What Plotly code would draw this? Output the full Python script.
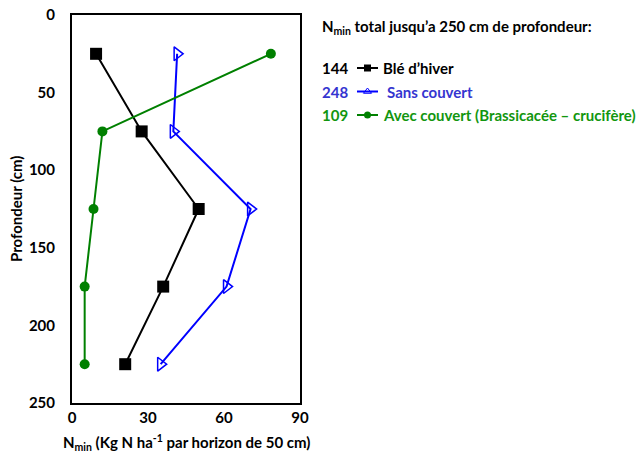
import plotly.graph_objects as go

# Soil mineral nitrogen by 50 cm horizon
depth_cm = [25, 75, 125, 175, 225]
ble_hiver = [9.5, 27.5, 50, 36, 21]
sans_couvert = [41.5, 40, 70.5, 61, 35]
avec_couvert = [78.5, 12, 8.5, 5, 5]

series_names = ["Blé d’hiver", "Sans couvert", "Avec couvert (Brassicacée – crucifère)"]
series_values = [ble_hiver, sans_couvert, avec_couvert]
x_ticks = [0, 30, 60, 90]
y_ticks = [0, 50, 100, 150, 200, 250]

W, H = 643, 454
FONT = "Lato"
FS = 15

styles = [
    dict(line="black", text="black", symbol="square", size=12, open=False),
    dict(line="#0000ff", text="#3535d0", symbol="triangle-right-open", size=12, open=True),
    dict(line="#008000", text="#12960f", symbol="circle", size=10, open=False),
]

fig = go.Figure()

for name, vals, st in zip(series_names, series_values, styles):
    fig.add_trace(go.Scatter(
        x=vals, y=depth_cm, mode="lines+markers", name=name,
        line=dict(color=st["line"], width=2),
        marker=dict(symbol=st["symbol"], size=st["size"], color=st["line"],
                    line=dict(color=st["line"], width=1.5 if st["open"] else 0)),
        showlegend=False, xaxis="x", yaxis="y",
    ))

# Legend block on the right, drawn in pixel space
px = lambda x: x / W
py = lambda y: 1 - y / H
legend_rows = [68, 91.5, 115]
legend_text_x = [381, 385, 381]
bold = lambda color: dict(family=FONT, size=FS, color=color, weight="bold")
annotations = [
    dict(text="N<sub>min</sub> total jusqu’a 250 cm de profondeur:", x=px(320), y=py(27),
         xref="paper", yref="paper", xanchor="left", yanchor="middle", showarrow=False,
         font=bold("black")),
]
for name, vals, st, ry, tx in zip(series_names, series_values, styles, legend_rows, legend_text_x):
    total = round(sum(vals))
    annotations.append(dict(text=str(total), x=px(320), y=py(ry), xref="paper", yref="paper",
                            xanchor="left", yanchor="middle", showarrow=False,
                            font=bold(st["text"])))
    annotations.append(dict(text=name, x=px(tx), y=py(ry), xref="paper", yref="paper",
                            xanchor="left", yanchor="middle", showarrow=False,
                            font=bold(st["text"])))
    fig.add_trace(go.Scatter(
        x=[357, 378], y=[ry, ry], mode="lines", line=dict(color=st["line"], width=2),
        showlegend=False, hoverinfo="skip", xaxis="x2", yaxis="y2"))
    fig.add_trace(go.Scatter(
        x=[367.5], y=[ry], mode="markers",
        marker=dict(symbol=st["symbol"].replace("triangle-right", "triangle-up"),
                    size=7, color=st["line"],
                    line=dict(color=st["line"], width=1 if st["open"] else 0)),
        showlegend=False, hoverinfo="skip", xaxis="x2", yaxis="y2"))

annotations.append(dict(text="Profondeur (cm)", x=px(16), y=py(209), xref="paper", yref="paper",
                        textangle=-90, showarrow=False, xanchor="center", yanchor="middle",
                        font=bold("black")))
annotations.append(dict(text="N<sub>min</sub> (Kg N ha<sup>-1</sup> par horizon de 50 cm)",
                        x=px(186), y=py(442), xref="paper", yref="paper", showarrow=False,
                        xanchor="center", yanchor="middle", font=bold("black")))

axis_common = dict(showline=True, mirror=True, linecolor="black", linewidth=2,
                   showgrid=False, zeroline=False, ticks="", automargin=False,
                   tickfont=bold("black"))

fig.update_layout(
    width=W, height=H, margin=dict(l=0, r=0, t=0, b=0, autoexpand=False),
    paper_bgcolor="white", plot_bgcolor="rgba(0,0,0,0)",
    xaxis=dict(domain=[px(72), px(300)], range=[0, 90], tickvals=x_ticks,
               ticklabelstandoff=0, anchor="y", **axis_common),
    yaxis=dict(domain=[py(403), py(15)], range=[250, 0], tickvals=y_ticks,
               ticklabelstandoff=12, anchor="x", **axis_common),
    xaxis2=dict(domain=[0, 1], range=[0, W], visible=False, anchor="y2", fixedrange=True),
    yaxis2=dict(domain=[0, 1], range=[H, 0], visible=False, anchor="x2", fixedrange=True),
    annotations=annotations,
    showlegend=False,
)

fig.write_html("out.html")
